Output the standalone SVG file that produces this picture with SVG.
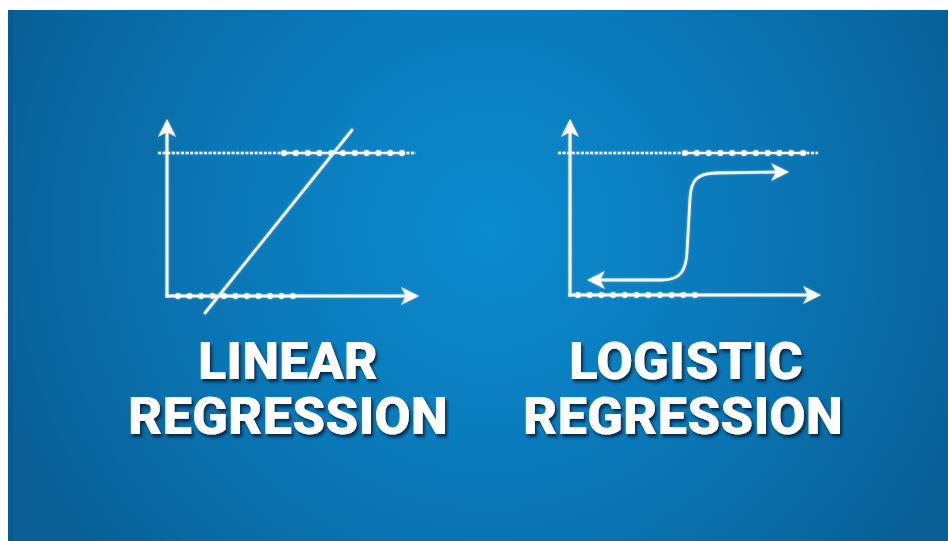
<svg xmlns="http://www.w3.org/2000/svg" width="948" height="541" viewBox="0 0 948 541">
<defs>
<radialGradient id="bg" cx="490" cy="230" r="520" gradientUnits="userSpaceOnUse">
<stop offset="0" stop-color="#0b8bd0"/>
<stop offset="0.55" stop-color="#0a76b5"/>
<stop offset="1" stop-color="#095f96"/>
</radialGradient>
<filter id="sh" x="-10%" y="-20%" width="120%" height="150%">
<feDropShadow dx="2" dy="3" stdDeviation="1.5" flood-color="#06243f" flood-opacity="0.85"/>
</filter>
<filter id="glow" x="-5%" y="-5%" width="110%" height="110%">
<feDropShadow dx="0" dy="0" stdDeviation="1" flood-color="#ffffff" flood-opacity="0.4"/>
</filter>
</defs>
<style>
.ax{stroke:#fff;stroke-width:3;fill:none}
.ln{stroke:#f4f8fb;stroke-width:2.8;fill:none;stroke-linecap:round}
.dash{stroke:#e8f1f8;stroke-width:2.5;stroke-dasharray:3 1.6;fill:none}
.dot{fill:#fff}
.hd{fill:#fff}
.t{font-family:Roboto,"Liberation Sans",sans-serif;font-weight:900;font-size:52px;fill:#fff;text-anchor:middle}
</style>
<rect x="0" y="0" width="948" height="541" fill="#ffffff"/>
<rect x="8" y="10" width="940" height="531" fill="url(#bg)"/>
<rect x="8" y="10" width="5" height="531" fill="#07558a" opacity="0.6"/>

<g id="linear-chart" filter="url(#glow)">
<line class="dash" x1="158" y1="153" x2="416" y2="153"/>
<line x1="284" y1="153" x2="402" y2="153" stroke="#fff" stroke-width="2"/>
<g class="dot">
<circle cx="284" cy="153" r="3"/><circle cx="295.8" cy="153" r="3"/><circle cx="307.6" cy="153" r="3"/><circle cx="319.4" cy="153" r="3"/><circle cx="331.2" cy="153" r="3"/><circle cx="343" cy="153" r="3"/><circle cx="354.8" cy="153" r="3"/><circle cx="366.6" cy="153" r="3"/><circle cx="378.4" cy="153" r="3"/><circle cx="390.2" cy="153" r="3"/><circle cx="402" cy="153" r="3"/>
</g>
<line class="ax" x1="167" y1="130" x2="167" y2="297.5"/>
<line class="ax" x1="165.5" y1="296" x2="408" y2="296"/>
<path class="hd" d="M167 119 L176 137 L167 132 L158 137 Z"/>
<path class="hd" d="M419 296 L401 287 L406 296 L401 305 Z"/>
<g class="dot">
<circle cx="178" cy="296" r="3"/><circle cx="189.5" cy="296" r="3"/><circle cx="201" cy="296" r="3"/><circle cx="212.5" cy="296" r="3"/><circle cx="224" cy="296" r="3"/><circle cx="235.5" cy="296" r="3"/><circle cx="247" cy="296" r="3"/><circle cx="258.5" cy="296" r="3"/><circle cx="270" cy="296" r="3"/><circle cx="281.5" cy="296" r="3"/><circle cx="293" cy="296" r="3"/>
</g>
<line class="ln" x1="205" y1="313" x2="352" y2="130"/>
</g>

<g id="logistic-chart" filter="url(#glow)">
<line class="dash" x1="558" y1="153" x2="818" y2="153"/>
<line x1="685" y1="153" x2="803" y2="153" stroke="#fff" stroke-width="2"/>
<g class="dot">
<circle cx="685" cy="153" r="3"/><circle cx="696.8" cy="153" r="3"/><circle cx="708.6" cy="153" r="3"/><circle cx="720.4" cy="153" r="3"/><circle cx="732.2" cy="153" r="3"/><circle cx="744" cy="153" r="3"/><circle cx="755.8" cy="153" r="3"/><circle cx="767.6" cy="153" r="3"/><circle cx="779.4" cy="153" r="3"/><circle cx="791.2" cy="153" r="3"/><circle cx="803" cy="153" r="3"/>
</g>
<line class="ax" x1="570" y1="130" x2="570" y2="296.5"/>
<line class="ax" x1="568.5" y1="295" x2="810" y2="295"/>
<path class="hd" d="M570 119 L579 137 L570 132 L561 137 Z"/>
<path class="hd" d="M821 295 L803 286 L808 295 L803 304 Z"/>
<g class="dot">
<circle cx="578" cy="295" r="3"/><circle cx="589.7" cy="295" r="3"/><circle cx="601.4" cy="295" r="3"/><circle cx="613.1" cy="295" r="3"/><circle cx="624.8" cy="295" r="3"/><circle cx="636.5" cy="295" r="3"/><circle cx="648.2" cy="295" r="3"/><circle cx="659.9" cy="295" r="3"/><circle cx="671.6" cy="295" r="3"/><circle cx="683.3" cy="295" r="3"/><circle cx="695" cy="295" r="3"/>
</g>
<path class="ln" d="M598 280 L662 280 C681 280 686 270 687 252 L690 198 C691 180 697 173.5 716 173 L777 172"/>
<path class="hd" d="M587 280 L605 271 L600 280 L605 289 Z"/>
<path class="hd" d="M789 172 L771 163 L776 172 L771 181 Z"/>
</g>

<g id="linear-label" filter="url(#sh)">
<text class="t" x="288" y="379" textLength="180" lengthAdjust="spacingAndGlyphs">LINEAR</text>
<text class="t" x="288" y="434" textLength="320" lengthAdjust="spacingAndGlyphs">REGRESSION</text>
</g>
<g id="logistic-label" filter="url(#sh)">
<text class="t" x="686" y="379" textLength="234" lengthAdjust="spacingAndGlyphs">LOGISTIC</text>
<text class="t" x="683" y="434" textLength="320" lengthAdjust="spacingAndGlyphs">REGRESSION</text>
</g>
</svg>
